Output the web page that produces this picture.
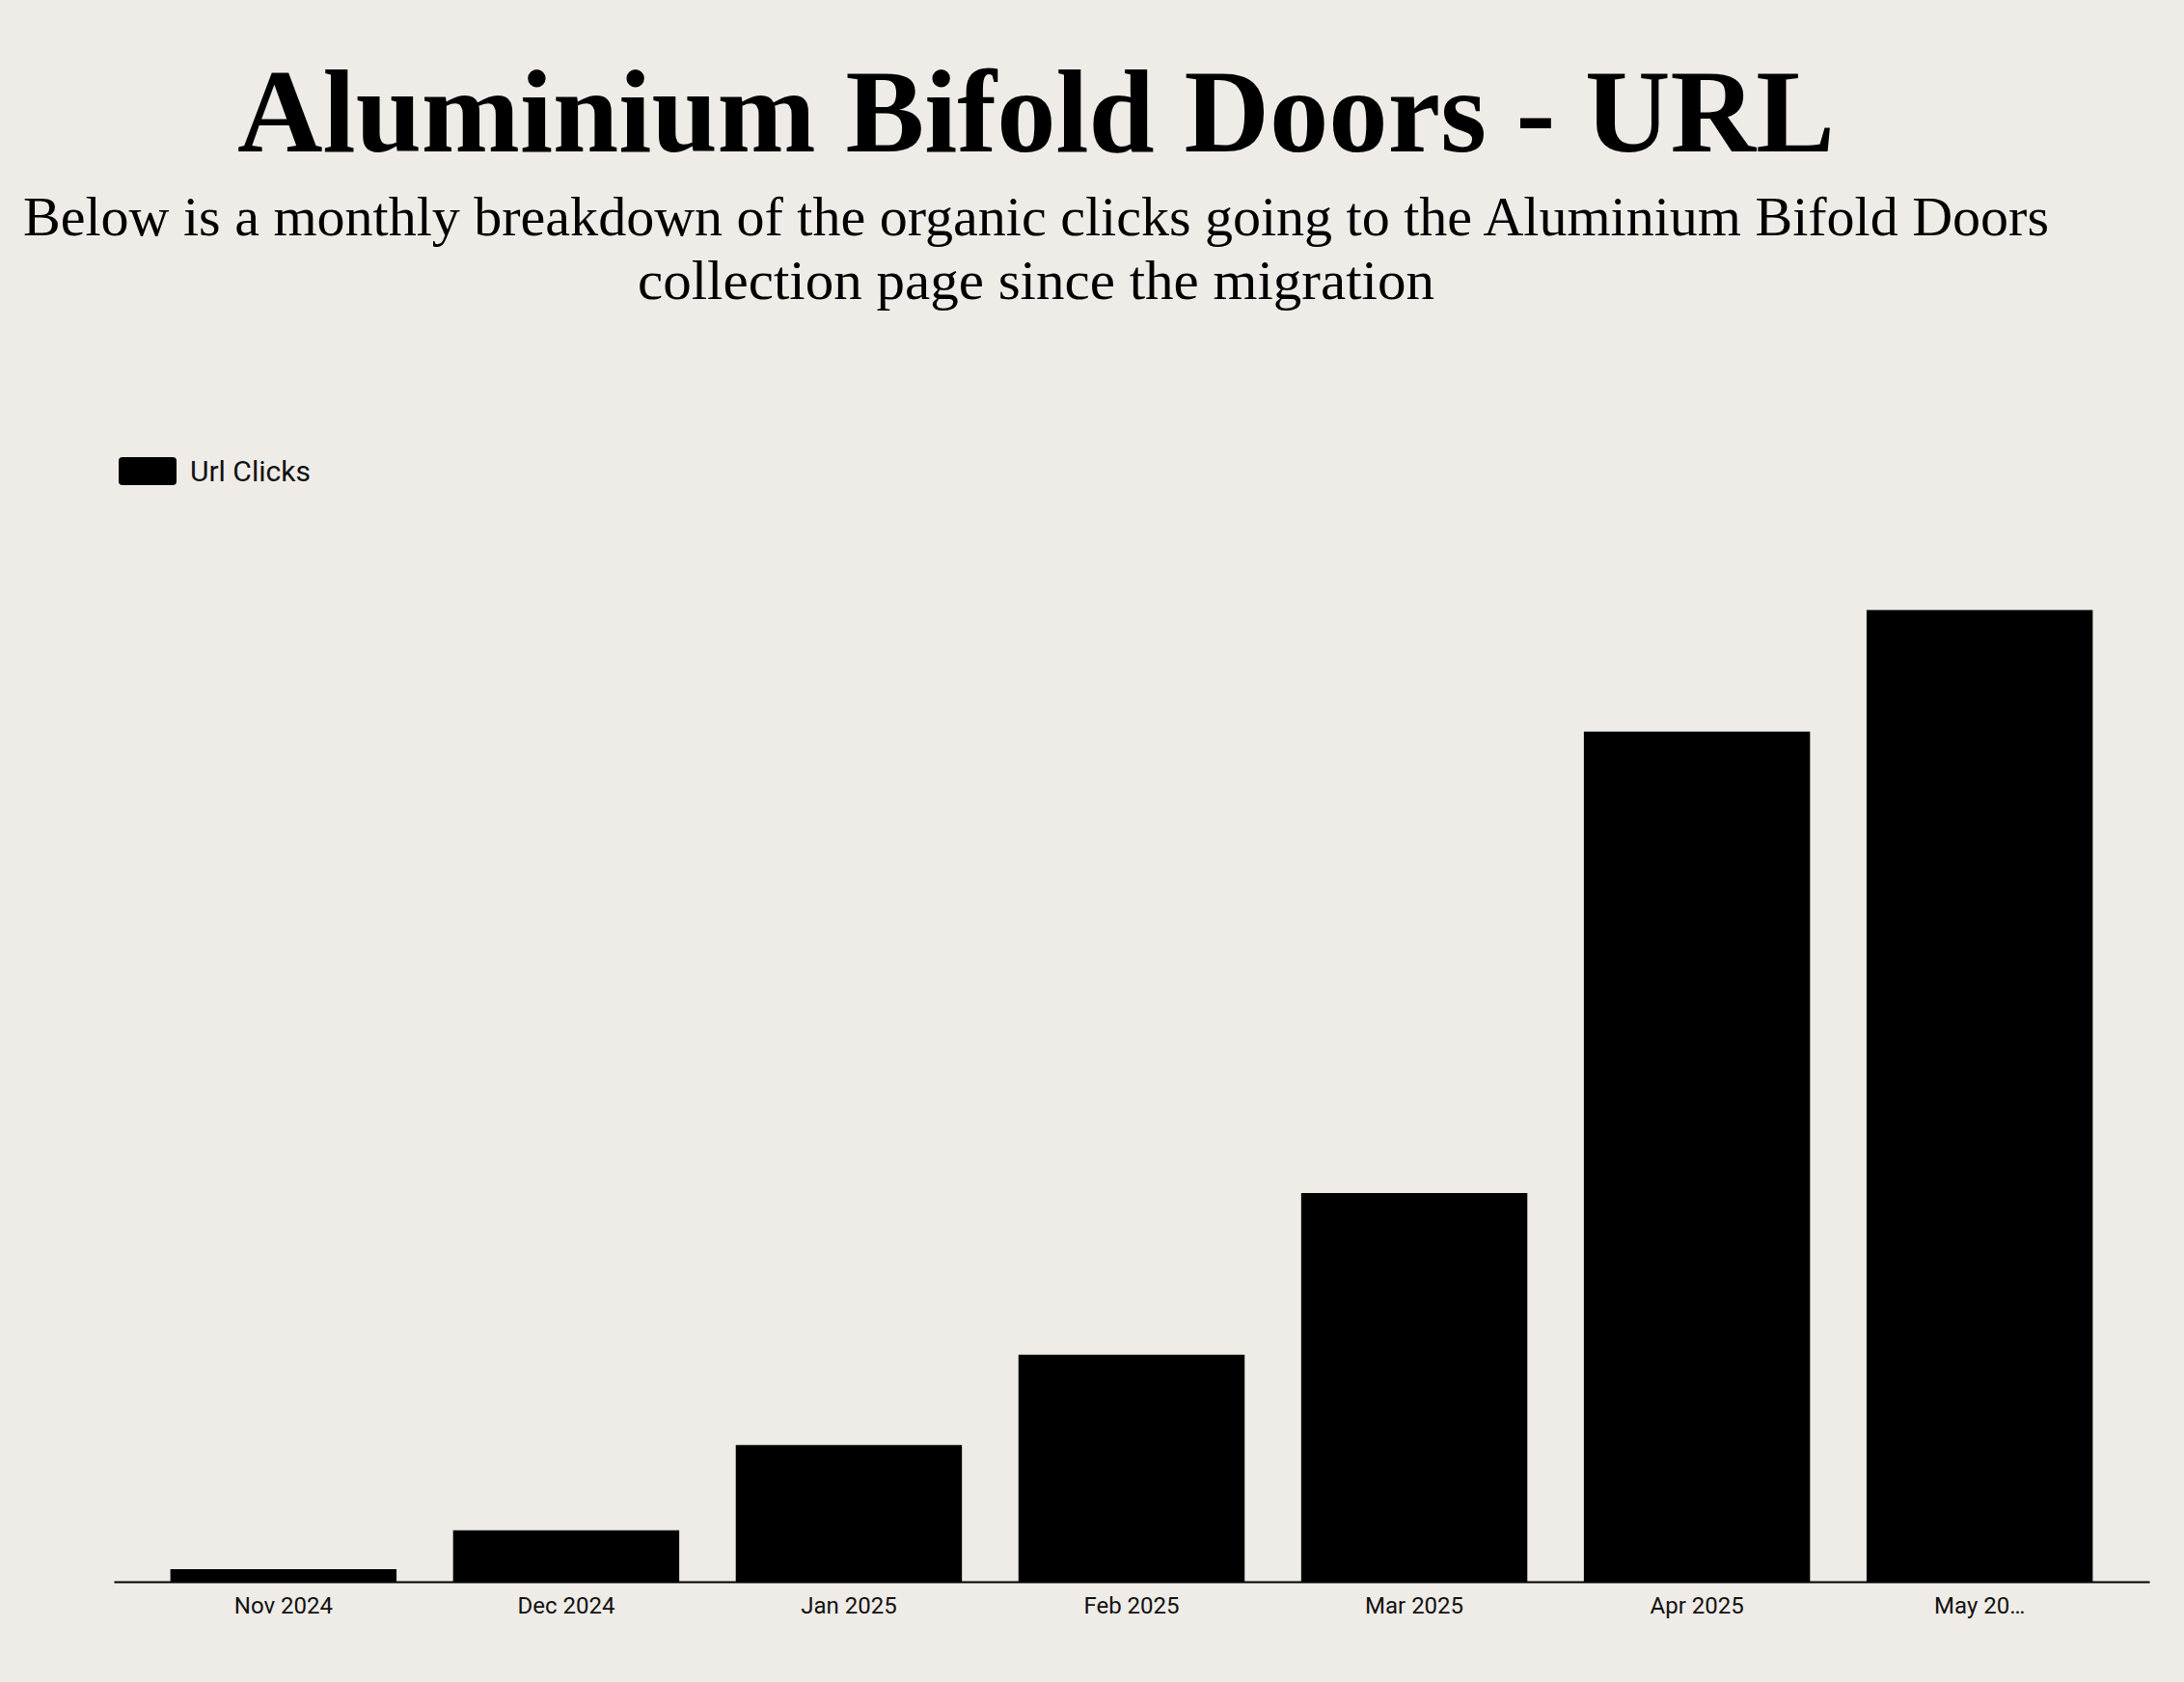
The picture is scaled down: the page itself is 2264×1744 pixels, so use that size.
<!DOCTYPE html>
<html>
<head>
<meta charset="utf-8">
<script src="https://cdn.jsdelivr.net/npm/d3@7"></script>
<style>
  html, body { margin: 0; padding: 0; background: #efece7; }
  svg { display: block; }
</style>
</head>
<body>
<div id="chart"></div>
<script>
const months = ["Nov 2024", "Dec 2024", "Jan 2025", "Feb 2025", "Mar 2025", "Apr 2025", "May 2025"];
const urlClicks = [10, 41, 109, 181, 310, 678, 775];
const seriesName = "Url Clicks";
const titleText = "Aluminium Bifold Doors - URL";
const subtitleLines = [
  "Below is a monthly breakdown of the organic clicks going to the Aluminium Bifold Doors",
  "collection page since the migration",
];

const width = 2264;
const height = 1744;
const margin = { top: 600, right: 36, bottom: 104, left: 118 };
const barColor = "#000";

const svg = d3
  .select("#chart")
  .append("svg")
  .attr("width", width)
  .attr("height", height)
  .attr("viewBox", [0, 0, width, height]);

svg.append("rect").attr("width", width).attr("height", height).attr("fill", "#efece7");

// header - widths fitted to the original (condensed serif)
const centerX = 1074;
svg
  .append("text")
  .attr("x", centerX)
  .attr("y", 157)
  .attr("text-anchor", "middle")
  .attr("font-family", "'Liberation Serif', serif")
  .attr("font-weight", "bold")
  .attr("font-size", 122)
  .attr("fill", "#000")
  .attr("textLength", 1656)
  .attr("lengthAdjust", "spacingAndGlyphs")
  .text(titleText);

const subWidths = [2100, 826];
svg
  .append("g")
  .selectAll("text")
  .data(subtitleLines)
  .join("text")
  .attr("x", centerX)
  .attr("y", (d, i) => 244 + i * 66)
  .attr("text-anchor", "middle")
  .attr("font-family", "'Liberation Serif', serif")
  .attr("font-size", 56)
  .attr("fill", "#000")
  .attr("textLength", (d, i) => subWidths[i])
  .attr("lengthAdjust", "spacingAndGlyphs")
  .text((d) => d);

// legend
const legend = svg.append("g").attr("transform", "translate(123,474)");
legend
  .append("rect")
  .attr("width", 60)
  .attr("height", 29)
  .attr("rx", 4)
  .attr("fill", barColor);
legend
  .append("text")
  .attr("x", 74)
  .attr("y", 25)
  .attr("font-family", "Roboto, sans-serif")
  .attr("font-size", 30)
  .attr("fill", "#111")
  .text(seriesName);

// scales
const x = d3
  .scaleBand()
  .domain(months)
  .range([margin.left, width - margin.right])
  .padding(0.2);

const y = d3
  .scaleLinear()
  .domain([0, 800])
  .range([height - margin.bottom, margin.top]);

svg
  .append("g")
  .selectAll("rect")
  .data(months)
  .join("rect")
  .attr("x", (d) => x(d))
  .attr("y", (d, i) => y(urlClicks[i]))
  .attr("width", x.bandwidth())
  .attr("height", (d, i) => y(0) - y(urlClicks[i]))
  .attr("fill", barColor);

const xAxis = svg
  .append("g")
  .attr("transform", `translate(0,${y(0)})`)
  .call(
    d3
      .axisBottom(x)
      .tickSize(0)
      .tickPadding(16)
      .tickFormat((d) => (d === "May 2025" ? "May 20…" : d))
  );

xAxis.select(".domain").attr("stroke", "#000").attr("stroke-width", 2);
xAxis
  .selectAll("text")
  .attr("font-family", "Roboto, sans-serif")
  .attr("font-size", 24)
  .attr("fill", "#111");
</script>
</body>
</html>
